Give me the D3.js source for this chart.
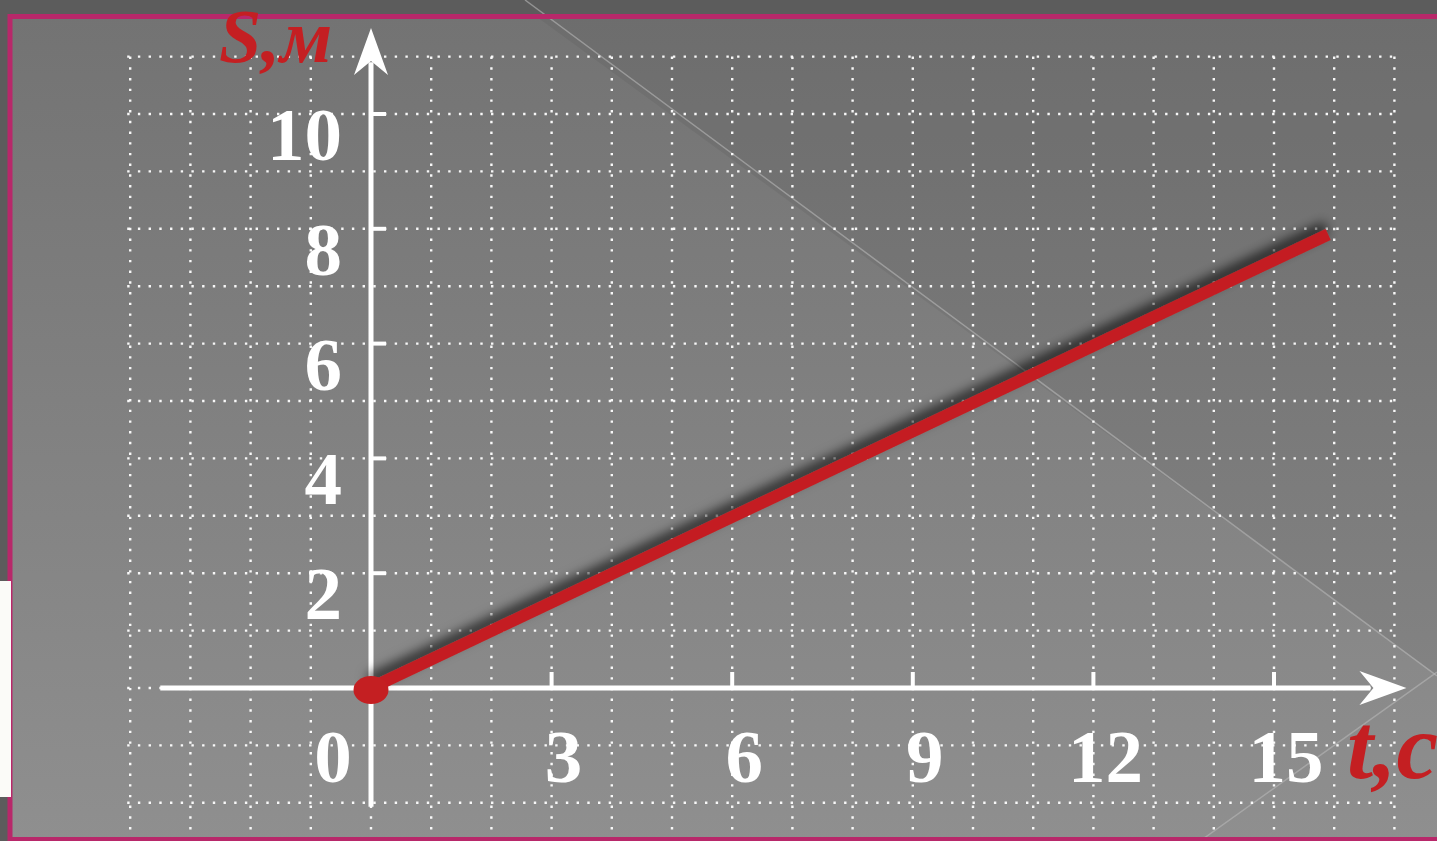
<!DOCTYPE html>
<html lang="ru">
<head>
    <meta charset="utf-8">
    <title>S(t)</title>
    <style>
        html,
        body {
            margin: 0;
            padding: 0;
            width: 100%;
            height: 100%;
            background: #5c5c5c;
            overflow: hidden;
        }
        /* grid lines are dotted */
        .grid line {
            stroke: #ffffff;
            stroke-width: 2.4px;
            stroke-dasharray: 2.4 8.3;
            stroke-opacity: 0.95;
        }

        .ticklabel {
            font-family: "Liberation Serif", "Times New Roman", serif;
            font-weight: bold;
            font-size: 75px;
            fill: #ffffff;
        }

        .axislabel {
            font-family: "Liberation Serif", "Times New Roman", serif;
            font-weight: bold;
            font-style: italic;
            fill: #c41f22;
        }
    </style>
    <script src="https://d3js.org/d3.v7.min.js"></script>
</head>
<body>
    <div id="chart"></div>
    <script>
        // data
        var gridT = d3.range(-4, 18);          // vertical dotted lines, t = -4 .. 17
        var gridS = d3.range(-2, 12);          // horizontal dotted lines, s = -2 .. 11
        var tTicks = [3, 6, 9, 12, 15];
        var sTicks = [2, 4, 6, 8, 10];
        var tLabels = ["0", "3", "6", "9", "12", "15"];
        var sLabels = ["2", "4", "6", "8", "10"];
        var lineT = [0, 15.9];
        var lineS = [0, 7.9];

        var width = 1437,
            height = 841;

        var svg = d3.select("#chart").append("svg")
            .attr("width", width)
            .attr("height", height);

        // scales: 60.2px per second, 57.4px per metre
        var x = d3.scaleLinear().domain([0, 17]).range([371, 371 + 17 * 60.2]);
        var y = d3.scaleLinear().domain([0, 11]).range([688, 688 - 11 * 57.4]);

        var defs = svg.append("defs");

        var grad = defs.append("linearGradient")
            .attr("id", "bg")
            .attr("x1", 0).attr("y1", 0)
            .attr("x2", 0).attr("y2", 1);
        grad.append("stop").attr("offset", "0%").attr("stop-color", "#737373");
        grad.append("stop").attr("offset", "100%").attr("stop-color", "#8f8f8f");

        var shadow = defs.append("filter")
            .attr("id", "shadow")
            .attr("x", "-10%").attr("y", "-30%")
            .attr("width", "120%").attr("height", "160%");
        shadow.append("feDropShadow")
            .attr("dx", -2)
            .attr("dy", -7)
            .attr("stdDeviation", 6)
            .attr("flood-color", "#000")
            .attr("flood-opacity", 0.7);

        // the slide background inside the pink frame
        svg.append("rect")
            .attr("x", 10).attr("y", 17)
            .attr("width", width).attr("height", height - 17)
            .attr("fill", "url(#bg)");

        // darker area right of the big diagonal
        svg.append("path")
            .attr("d", "M537,17 L" + width + ",17 L" + width + ",675 Z")
            .attr("fill", "#000")
            .attr("fill-opacity", 0.05);
        svg.append("line")
            .attr("x1", 525).attr("y1", 0)
            .attr("x2", width).attr("y2", 676)
            .attr("stroke", "#b8b8b8")
            .attr("stroke-opacity", 0.6)
            .attr("stroke-width", 1.5);
        svg.append("line")
            .attr("x1", 1200).attr("y1", height)
            .attr("x2", width).attr("y2", 672)
            .attr("stroke", "#b8b8b8")
            .attr("stroke-opacity", 0.6)
            .attr("stroke-width", 1.5);

        // dotted grid
        var grid = svg.append("g").attr("class", "grid");
        grid.selectAll("line.v")
            .data(gridT)
            .enter().append("line")
            .attr("class", "v")
            .attr("x1", function(d) { return x(d); })
            .attr("x2", function(d) { return x(d); })
            .attr("y1", y(11))
            .attr("y2", height);
        grid.selectAll("line.h")
            .data(gridS)
            .enter().append("line")
            .attr("class", "h")
            .attr("y1", function(d) { return y(d); })
            .attr("y2", function(d) { return y(d); })
            .attr("x1", x(-4) - 3)
            .attr("x2", x(17) + 3);

        // pink frame
        svg.append("path")
            .attr("d", "M" + (width + 5) + ",16.5 L10,16.5 L10,839.5 L" + (width + 5) + ",839.5")
            .attr("fill", "none")
            .attr("stroke", "#b8286a")
            .attr("stroke-width", 5);
        svg.append("rect")
            .attr("x", 0).attr("y", 581)
            .attr("width", 11).attr("height", 216)
            .attr("fill", "#fbfbf8");

        // axes
        var axes = svg.append("g").attr("class", "axes");

        axes.append("line")
            .attr("x1", x(-3.5)).attr("y1", y(0))
            .attr("x2", x(16.6)).attr("y2", y(0))
            .attr("stroke", "#fff")
            .attr("stroke-width", 5);
        axes.append("line")
            .attr("x1", x(0)).attr("y1", y(-2.07))
            .attr("x2", x(0)).attr("y2", y(10.9))
            .attr("stroke", "#fff")
            .attr("stroke-width", 5);

        // barbed arrow heads
        var tipX = x(17.2);
        axes.append("path")
            .attr("d", "M" + tipX + "," + y(0) +
                " L" + (tipX - 47) + "," + (y(0) - 17) +
                " L" + (tipX - 33) + "," + y(0) +
                " L" + (tipX - 47) + "," + (y(0) + 17) + " Z")
            .attr("fill", "#fff");
        var tipY = y(11.5);
        axes.append("path")
            .attr("d", "M" + x(0) + "," + tipY +
                " L" + (x(0) - 17) + "," + (tipY + 47) +
                " L" + x(0) + "," + (tipY + 33) +
                " L" + (x(0) + 17) + "," + (tipY + 47) + " Z")
            .attr("fill", "#fff");

        // tick marks
        axes.selectAll("line.tt")
            .data(tTicks)
            .enter().append("line")
            .attr("class", "tt")
            .attr("x1", function(d) { return x(d); })
            .attr("x2", function(d) { return x(d); })
            .attr("y1", y(0))
            .attr("y2", y(0) - 16)
            .attr("stroke", "#fff")
            .attr("stroke-width", 4);
        axes.selectAll("line.st")
            .data(sTicks)
            .enter().append("line")
            .attr("class", "st")
            .attr("y1", function(d) { return y(d); })
            .attr("y2", function(d) { return y(d); })
            .attr("x1", x(0))
            .attr("x2", x(0) + 15)
            .attr("stroke", "#fff")
            .attr("stroke-width", 4);

        // tick labels
        svg.selectAll("text.tl")
            .data(tLabels)
            .enter().append("text")
            .attr("class", "ticklabel tl")
            .attr("text-anchor", "middle")
            .attr("x", function(d) {
                var v = +d;
                return v == 0 ? x(0) - 38 : x(v) + 12;
            })
            .attr("y", y(0) + 94)
            .text(function(d) { return d; });
        svg.selectAll("text.sl")
            .data(sLabels)
            .enter().append("text")
            .attr("class", "ticklabel sl")
            .attr("text-anchor", "end")
            .attr("x", x(0) - 29)
            .attr("y", function(d) { return y(+d) + 46; })
            .text(function(d) { return d; });

        // axis names
        svg.append("text")
            .attr("class", "axislabel")
            .attr("x", 219)
            .attr("y", 62)
            .style("font-size", "76px")
            .text("S,м");
        svg.append("text")
            .attr("class", "axislabel")
            .attr("x", 1347)
            .attr("y", 778)
            .style("font-size", "94px")
            .text("t,c");

        // the motion graph
        var pts = lineT.map(function(t, i) { return [t, lineS[i]]; });
        var line = d3.line()
            .x(function(d) { return x(d[0]); })
            .y(function(d) { return y(d[1]); });

        svg.append("path")
            .datum(pts)
            .attr("d", line)
            .attr("fill", "none")
            .attr("stroke", "#c41f22")
            .attr("stroke-width", 12)
            .attr("filter", "url(#shadow)");

        svg.append("ellipse")
            .attr("cx", x(lineT[0]))
            .attr("cy", y(lineS[0]) + 2)
            .attr("rx", 17.5)
            .attr("ry", 14)
            .attr("fill", "#c41f22");
    </script>
</body>
</html>
